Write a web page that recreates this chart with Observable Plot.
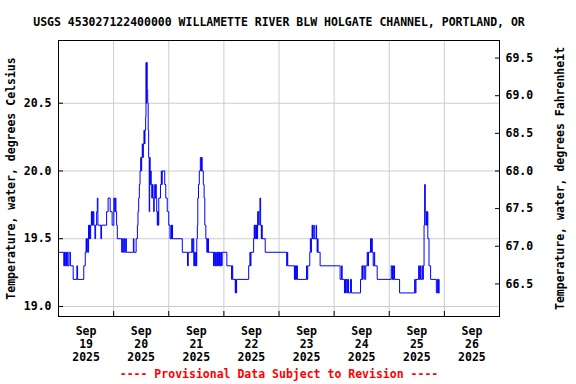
<!DOCTYPE html>
<html><head><meta charset="utf-8">
<script src="https://cdn.jsdelivr.net/npm/d3@7"></script>
<script src="https://cdn.jsdelivr.net/npm/@observablehq/plot@0.6"></script>
<style>body{margin:0;background:#fff}</style>
</head><body><div id="chart"></div>
<script>
const title = "USGS 453027122400000 WILLAMETTE RIVER BLW HOLGATE CHANNEL, PORTLAND, OR";
const caption = "---- Provisional Data Subject to Revision ----";
const leftLabel = "Temperature, water, degrees Celsius";
const rightLabel = "Temperature, water, degrees Fahrenheit";

// hours since 2025-09-19 00:00 UTC at which the reading changes, and the new reading (deg C)
const hours = [0,2.3,2.6,2.9,3.2,3.5,3.8,4.1,4.6,5.2,6.4,8.0,8.3,11.0,11.65,12.0,12.2,12.5,12.8,13.1,13.3,13.5,13.75,14.0,14.3,14.5,14.7,14.9,15.1,15.4,15.85,16.15,16.6,16.9,17.15,18.45,18.75,20.95,21.6,22.5,23.35,24.1,24.45,24.75,25.0,25.3,25.6,27.5,27.8,28.15,28.5,28.8,29.25,29.55,32.6,32.85,33.8,34.35,34.6,34.9,35.2,35.5,35.8,36.0,36.2,36.45,36.65,36.95,37.2,37.45,37.65,37.95,38.1,38.25,38.4,38.6,38.85,39.05,39.25,39.5,39.7,39.9,40.15,40.35,40.6,40.9,41.15,41.45,41.65,41.9,42.1,42.35,42.55,42.75,43.0,43.2,43.4,43.65,44.4,44.75,44.95,45.15,46.25,46.7,47.35,48.0,48.55,49.0,49.2,49.45,49.65,53.9,56.15,56.5,58.05,58.25,58.6,58.9,59.2,59.5,59.8,60.0,60.2,60.45,60.65,60.95,61.3,61.75,62.1,62.3,62.55,63.05,63.4,63.7,64.15,64.6,64.8,65.0,65.2,65.3,67.5,67.75,68.05,68.4,68.65,68.95,69.25,69.5,69.8,70.1,70.4,70.7,71.0,71.25,73.3,75.35,75.6,75.85,76.95,77.15,77.3,77.55,82.8,83.35,83.55,83.8,84.95,85.2,85.4,85.65,85.95,86.2,86.5,86.7,87.15,87.4,87.7,88.0,88.3,88.45,88.7,90.0,99.35,99.6,99.8,102.7,102.9,103.1,103.35,103.55,103.75,104.0,108.0,108.2,108.5,109.4,109.65,109.9,110.1,110.4,110.6,111.15,111.35,112.15,112.35,112.6,112.8,113.0,113.9,122.6,123.25,123.5,124.5,124.8,125.0,125.25,125.65,125.9,126.25,127.1,127.55,131.5,132.1,132.35,132.65,133.3,133.75,134.4,134.7,134.95,135.85,136.15,136.35,136.6,137.0,137.45,137.65,138.75,144.85,145.2,145.45,145.75,146.05,146.3,148.5,155.05,155.35,155.65,156.8,157.1,157.4,157.65,158.25,158.55,158.85,159.15,159.4,159.7,159.95,160.15,160.35,160.6,160.8,161.3,162.0,164.5,164.95,165.25,165.5,165.7,165.8];
const tempC = [19.4,19.3,19.4,19.3,19.4,19.3,19.4,19.3,19.4,19.3,19.2,19.3,19.2,19.3,19.4,19.5,19.4,19.5,19.4,19.6,19.5,19.6,19.5,19.6,19.7,19.6,19.7,19.6,19.7,19.6,19.5,19.6,19.7,19.8,19.6,19.5,19.6,19.7,19.8,19.7,19.6,19.8,19.7,19.8,19.7,19.6,19.5,19.4,19.5,19.4,19.5,19.4,19.5,19.4,19.5,19.4,19.5,19.6,19.7,19.8,19.9,20.0,20.1,20.0,20.1,20.2,20.1,20.2,20.3,20.2,20.3,20.4,20.8,20.5,20.8,20.6,20.5,20.3,20.1,19.7,20.1,19.9,20.0,19.9,19.8,19.9,19.8,19.7,19.8,19.9,19.8,19.9,19.8,19.7,19.6,19.7,19.6,19.8,19.9,20.0,19.9,20.0,19.9,19.8,19.7,19.6,19.5,19.6,19.5,19.6,19.5,19.4,19.3,19.4,19.5,19.4,19.5,19.3,19.4,19.3,19.4,19.3,19.5,19.6,19.8,19.9,20.0,20.1,20.0,20.1,20.0,19.9,19.8,19.6,19.5,19.4,19.5,19.4,19.5,19.4,19.3,19.4,19.3,19.4,19.3,19.4,19.3,19.4,19.3,19.4,19.3,19.4,19.3,19.4,19.3,19.2,19.3,19.2,19.1,19.2,19.1,19.2,19.3,19.4,19.3,19.4,19.5,19.6,19.5,19.6,19.5,19.6,19.5,19.7,19.6,19.7,19.8,19.6,19.5,19.6,19.5,19.4,19.3,19.4,19.3,19.2,19.3,19.2,19.3,19.2,19.3,19.2,19.3,19.2,19.3,19.4,19.5,19.4,19.5,19.6,19.5,19.6,19.5,19.6,19.5,19.4,19.5,19.4,19.3,19.2,19.3,19.2,19.1,19.2,19.1,19.2,19.1,19.2,19.1,19.2,19.1,19.2,19.3,19.2,19.3,19.2,19.3,19.4,19.3,19.4,19.5,19.4,19.5,19.4,19.3,19.4,19.3,19.2,19.3,19.2,19.3,19.2,19.3,19.2,19.1,19.2,19.1,19.2,19.3,19.2,19.3,19.2,19.3,19.2,19.3,19.6,19.9,19.7,19.6,19.7,19.6,19.7,19.5,19.3,19.2,19.1,19.2,19.1,19.2,19.1,19.1];

const dayLabels = ["2025-09-19T12:00Z","2025-09-20T12:00Z","2025-09-21T12:00Z","2025-09-22T12:00Z","2025-09-23T12:00Z","2025-09-24T12:00Z","2025-09-25T12:00Z","2025-09-26T12:00Z"];
const dayBreaks = ["2025-09-20T00:00Z","2025-09-21T00:00Z","2025-09-22T00:00Z","2025-09-23T00:00Z","2025-09-24T00:00Z","2025-09-25T00:00Z","2025-09-26T00:00Z"];
const celsiusTicks = [19.0, 19.5, 20.0, 20.5];
const fahrenheitTicks = [66.5, 67.0, 67.5, 68.0, 68.5, 69.0, 69.5];
const xDomain = ["2025-09-19T00:00Z", "2025-09-27T00:00Z"];
const yDomain = [18.926, 20.963];

const base = Date.parse("2025-09-19T00:00Z");
const data = hours.map((h, i) => ({t: new Date(base + h * 3600000), v: tempC[i]}));
const labelDates = dayLabels.map(d => new Date(d));
const breakDates = dayBreaks.map(d => new Date(d));
const fToC = f => (f - 32) * 5 / 9;
const fTicksC = fahrenheitTicks.map(fToC);

const font = "DejaVu Sans Mono";
const fs = 11.5;
const grid = "#cccccc";

const chart = Plot.plot({
  width: 576, height: 384,
  marginLeft: 58, marginRight: 77, marginTop: 40, marginBottom: 68,
  style: {fontFamily: font, fontSize: fs + "px", fontWeight: "bold", color: "black", background: "white"},
  x: {type: "utc", domain: xDomain.map(d => new Date(d)), label: null},
  y: {domain: yDomain, label: null},
  marks: [
    Plot.ruleX(breakDates, {x: d => d, stroke: grid, strokeWidth: 1}),
    Plot.ruleY(celsiusTicks, {y: d => d, stroke: grid, strokeWidth: 1}),
    Plot.line(data, {x: "t", y: "v", curve: "step-after", stroke: "#0000ff", strokeWidth: 1}),
    Plot.frame({stroke: "black", strokeWidth: 1}),
    Plot.axisX(labelDates, {anchor: "bottom", label: null, tickSize: 0, tickPadding: 9, tickFormat: d3.utcFormat("%b\n%d\n%Y"), lineHeight: 1.13, fontWeight: "bold", fontSize: fs}),
    Plot.axisX(breakDates, {anchor: "bottom", label: null, tickSize: -5, tickFormat: () => "", stroke: "black"}),
    Plot.axisY(celsiusTicks, {anchor: "left", label: null, tickSize: -5, tickPadding: 12, tickFormat: d3.format(".1f"), fontWeight: "bold", fontSize: fs}),
    Plot.axisY(fTicksC, {anchor: "right", label: null, tickSize: -5, tickPadding: 11, tickFormat: d => (d * 9 / 5 + 32).toFixed(1), fontWeight: "bold", fontSize: fs}),
    Plot.text([title], {text: d => d, frameAnchor: "top", dy: -23, fontSize: fs, fontWeight: "bold", fill: "black"}),
    Plot.text([caption], {text: d => d, frameAnchor: "bottom", dy: 61, fontSize: fs, fontWeight: "bold", fill: "#ff0000"}),
    Plot.text([leftLabel], {text: d => d, frameAnchor: "left", textAnchor: "middle", dx: -47, rotate: -90, fontSize: fs, fontWeight: "bold", fill: "black"}),
    Plot.text([rightLabel], {text: d => d, frameAnchor: "right", textAnchor: "middle", dx: 61, rotate: -90, fontSize: fs, fontWeight: "bold", fill: "black"})
  ]
});
document.getElementById("chart").appendChild(chart);
</script>
</body></html>
